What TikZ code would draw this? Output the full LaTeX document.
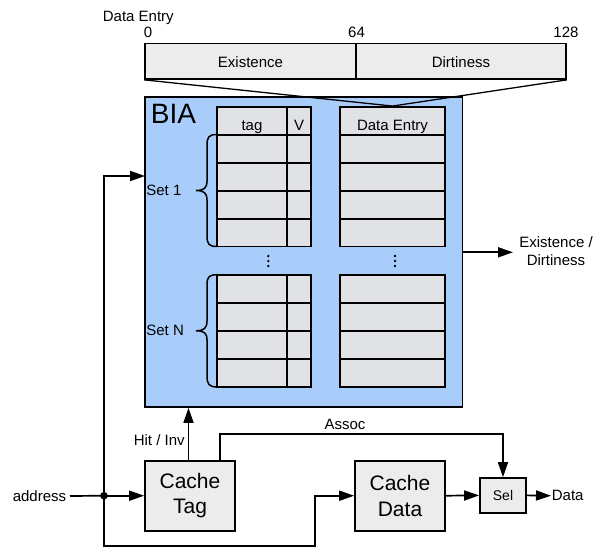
\documentclass[tikz,border=0pt]{standalone}
\usepackage{fontspec}
\setmainfont{Liberation Sans}
\usetikzlibrary{arrows.meta}
\definecolor{biablue}{HTML}{A9CDFB}
\definecolor{cellgray}{HTML}{E0E2E6}
\definecolor{boxgray}{HTML}{ECECEC}
\begin{document}
\begin{tikzpicture}[x=1pt,y=-1pt,
  font=\fontsize{15}{18}\selectfont,
  line width=1.7pt,
  arr/.style={-{Triangle[length=15pt,width=10pt]}},
  field/.style={draw, fill=boxgray, minimum height=35.5pt, inner sep=0pt},
  cell/.style={draw, fill=cellgray, inner sep=0pt, minimum height=27.7pt},
  unit/.style={draw, fill=boxgray, inner sep=0pt, minimum width=90pt, minimum height=70pt,
    align=center, font=\fontsize{21}{25.6}\selectfont},
  lbl/.style={inner sep=0pt}]
\useasboundingbox (0,0) rectangle (597,547);

% ---- bit layout of a data entry
\node[lbl, anchor=base west] (delabel) at (102,21) {Data Entry};
\node[lbl, anchor=base] (b0) at (148,37) {0};
\node[lbl, anchor=base] (b64) at (356.5,37) {64};
\node[lbl, anchor=base] (b128) at (566,37) {128};
\node[field, minimum width=211pt] (exist) at (250.5,61.25) {};
\node[field, minimum width=210pt] (dirt) at (461,61.25) {};
\node[lbl, anchor=base] at (250.5,67) {Existence};
\node[lbl, anchor=base] at (461,67) {Dirtiness};

% ---- BIA block
\node[draw, fill=biablue, inner sep=0pt, minimum width=317.5pt, minimum height=310.3pt]
  (bia) at (303.75,251.85) {};
\node[lbl, anchor=base west, font=\fontsize{28}{31}\selectfont] (bialbl) at (150,123.3) {BIA};

% table headers
\node[cell, minimum width=70pt] (tagh) at (252,120.75) {};
\node[cell, minimum width=24pt] (vh) at (299,120.75) {};
\node[cell, minimum width=105pt] (deh) at (392.5,120.75) {};
\node[lbl, anchor=base] at (252,130) {tag};
\node[lbl, anchor=base] at (299,130) {V};
\node[lbl, anchor=base] at (392.5,130) {Data Entry};

% set rows
\foreach \y in {148.5,176.5,204.5,232.5,288.7,316.7,344.7,372.8} {
  \node[cell, minimum width=70pt] at (252,\y) {};
  \node[cell, minimum width=24pt] at (299,\y) {};
  \node[cell, minimum width=105pt] at (392.5,\y) {};
}

% braces grouping the ways of a set
\draw[line width=1.5pt] (217,134.5) .. controls (209,134.5) and (207,137) .. (207,145)
  -- (207,181) .. controls (207,188) and (204,190.5) .. (196,190.5)
  .. controls (204,190.5) and (207,193) .. (207,200)
  -- (207,236) .. controls (207,244) and (209,246.5) .. (217,246.5);
\draw[line width=1.5pt] (217,274.7) .. controls (209,274.7) and (207,277) .. (207,285)
  -- (207,321) .. controls (207,328) and (204,330.8) .. (196,330.8)
  .. controls (204,330.8) and (207,333) .. (207,340)
  -- (207,376) .. controls (207,384) and (209,387) .. (217,387);
\node[lbl, anchor=base west] at (145.5,195) {Set 1};
\node[lbl, anchor=base west] at (145.5,335) {Set N};

% vertical ellipses between sets
\foreach \x in {268.3,395} {
  \foreach \y in {256,261,266} \fill (\x,\y) circle (1.3pt);
}

% data entry expands to the bit layout
\draw[line width=1.3pt] (exist.south west) -- (deh.north) -- (dirt.south east);

% BIA output
\coordinate (edout) at (513,252.3);
\draw[arr] (bia.east |- edout) -- (edout);
\node[lbl, align=center, font=\fontsize{15}{18.3}\selectfont] (edlbl) at (556,251) {Existence /\\Dirtiness};

% ---- cache pipeline
\node[unit] (tag) at (190,495.7) {Cache\\Tag};
\node[unit] (data) at (400,495.7) {Cache\\Data};
\node[draw, fill=boxgray, inner sep=0pt, minimum width=46pt, minimum height=34.7pt,
  font=\fontsize{14}{16}\selectfont] (sel) at (503,495.35) {Sel};

\node[lbl, anchor=east] (addr) at (67,496) {address};
\coordinate (split) at (104,495.7);
\coordinate (setin) at (145,176);
\coordinate (lowL) at (104,545.7);
\coordinate (lowR) at (315,545.7);
\coordinate (asL) at (220,434);

\draw (addr.east) ++(3,0) -- (split);
\fill (split) circle (3.8pt);
\draw[arr] (split) -- (tag.west);
\draw[arr] (split) |- (setin);
\draw[arr] (split) -- (lowL) -- (lowR) |- (data.west);
\draw[arr] (tag.north -| 188.5,0) -- (bia.south -| 188.5,0);
\node[lbl, anchor=base east] at (185.5,445) {Hit / Inv};
\draw[arr] (tag.north -| asL) -- (asL) -| (sel.north);
\node[lbl, anchor=base] at (345,429.3) {Assoc};
\draw[arr] (data.east) -- (sel.west);
\node[lbl, anchor=west] (dout) at (551,495.7) {Data};
\draw[arr] (sel.east) -- (dout.west);
\end{tikzpicture}
\end{document}
